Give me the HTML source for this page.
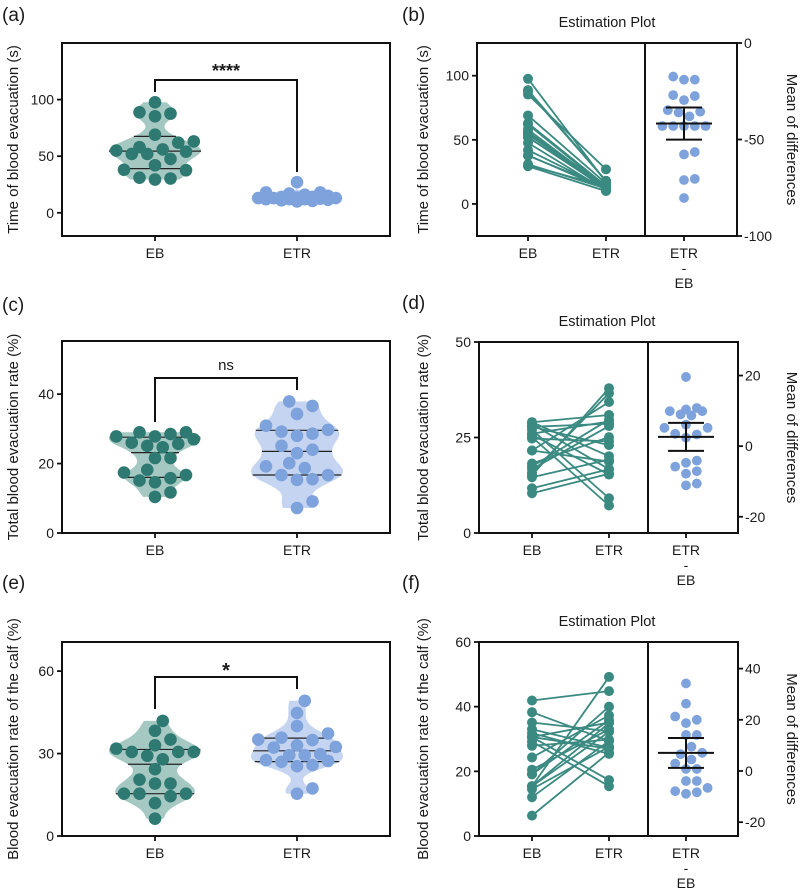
<!DOCTYPE html>
<html><head><meta charset="utf-8">
<style>
html,body{margin:0;padding:0;background:#fff;}
svg{display:block;font-family:"Liberation Sans",Arial,sans-serif;}
</style></head>
<body>
<svg id="fig" xmlns="http://www.w3.org/2000/svg" width="800" height="889" viewBox="0 0 800 889"></svg>
<script>
// ---- data ----
const categories = ["EB", "ETR"];
const timeEB = [97.6,88.8,85.3,87.6,63,69,62,52,54,55,56,58,52,47.6,42,37.6,38,29.4,31,30.3];
const timeETR = [17,18,27,18,14,16,13,12,15,11,13,12.5,14,10.5,12,13,11.5,10,12,13.5];
const timeDiff = [-17.4,-19,-19,-27,-27.5,-29.6,-34.8,-36,-35.6,-38,-43,-43,-43,-43,-43,-56.5,-57.7,-70.4,-71,-80.3];
const totalEB = [29,27.8,29,28.5,27.8,25.7,26,27,24.7,25.1,21.6,21.6,17.4,18.2,15.1,14.6,15.8,16.7,11.7,10.4];
const totalETR = [30.9,23,20.1,16.7,28.6,15.3,29.2,9.1,24,7.2,34.3,18.7,29.7,25.1,37.9,19.2,36.6,28,16.7,15.5];
const totalDiff = [19.6,10.8,10.4,9.9,9.9,9,8.7,6.1,5.2,5.2,3.5,3.3,2.4,-4.1,-4.7,-5.8,-7.1,-7.8,-10.6,-11.1];
const calfEB = [41.9,38.3,35.1,33,31.8,30.6,30.6,30.6,29.2,27.9,24.3,20.5,19.1,19.1,15.4,15.4,14.5,15.4,12,6.3];
const calfETR = [44.8,29.4,32.4,27.3,25.4,17.3,35.1,27,15.4,29.8,37.3,33,35.8,40,49.2,32.2,27.6,34.9,29.4,25.8];
const calfDiff = [34.2,26.3,21.3,20,18.7,14.1,14.1,9.5,7.1,6.6,4.5,2.9,0.8,0.8,-3.9,-3.9,-6.6,-7.9,-8.3,-8.9];
const ticksA = [0,50,100], ticksC = [0,20,40], ticksE = [0,30,60];
const ticksB = [0,50,100], ticksBR = [0,-50,-100];
const ticksD = [0,25,50], ticksDR = [20,0,-20];
const ticksF = [0,20,40,60], ticksFR = [40,20,0,-20];

const NS = "http://www.w3.org/2000/svg";
const svg = document.getElementById('fig');
const TEAL = "#2e7a72", TEALF = "#a6c8c3", BLUE = "#7ea2dc", BLUEF = "#c5d5f1", LINE = "#3a8a82";
function el(tag, attrs, parent) {
  const e = document.createElementNS(NS, tag);
  for (const k in attrs) e.setAttribute(k, attrs[k]);
  (parent || svg).appendChild(e);
  return e;
}
function txt(s, x, y, size, anchor, parent, rot) {
  const t = el('text', {x: x, y: y, 'font-size': size, 'text-anchor': anchor || 'middle', fill: '#1a1a1a'}, parent);
  if (rot) t.setAttribute('transform', 'rotate(' + rot + ' ' + x + ' ' + y + ')');
  t.textContent = s;
  return t;
}
function lin(d0, d1, r0, r1) { return v => r0 + (v - d0) * (r1 - r0) / (d1 - d0); }
function swarm(vals, sy, diam, step, cap) {
  const idx = vals.map((v, i) => i).sort((a, b) => vals[a] - vals[b]);
  const placed = [], off = new Array(vals.length);
  idx.forEach(i => {
    const y = sy(vals[i]);
    let best = 0, bestD = -1, found = false;
    for (let k = 0; k < 200; k++) {
      const o = (k % 2 ? 1 : -1) * Math.ceil(k / 2) * step;
      if (Math.abs(o) > cap) break;
      let md = Infinity;
      placed.forEach(p => { md = Math.min(md, Math.hypot(p[0] - o, p[1] - y)); });
      if (md >= diam) { best = o; found = true; break; }
      if (md > bestD + 0.01) { bestD = md; best = o; }
    }
    placed.push([best, y]); off[i] = best;
  });
  return off;
}
function quant(vals, p) {
  const s = vals.slice().sort((a, b) => a - b), n = s.length;
  let pos = (n + 1) * p - 1; pos = Math.max(0, Math.min(n - 1, pos));
  const lo = Math.floor(pos), hi = Math.ceil(pos);
  return s[lo] + (s[hi] - s[lo]) * (pos - lo);
}
function meanCI(d) {
  const n = d.length, m = d.reduce((a, b) => a + b, 0) / n;
  const sd = Math.sqrt(d.reduce((a, b) => a + (b - m) * (b - m), 0) / (n - 1));
  const h = 2.093 * sd / Math.sqrt(n);
  return [m, m - h, m + h];
}

function violinPanel(c) {
  const g = el('g', {});  
  const sy = lin(c.ymin, c.ymax, c.y1, c.y0);
  const groups = [[c.a, c.ax, TEAL, TEALF], [c.b, c.bx, BLUE, BLUEF]];
  groups.forEach((gr, gi) => {
    const vals = gr[0], cx = gr[1];
    const n = vals.length, mn = Math.min(...vals), mx = Math.max(...vals);
    const m = vals.reduce((a, b) => a + b, 0) / n;
    const sd = Math.sqrt(vals.reduce((a, b) => a + (b - m) * (b - m), 0) / (n - 1));
    const bw = 0.55 * 1.06 * sd * Math.pow(n, -0.2);
    const dens = v => vals.reduce((a, d) => a + Math.exp(-0.5 * ((v - d) / bw) ** 2), 0);
    const N = 60, pts = [];
    let kmax = 0;
    for (let i = 0; i <= N; i++) { const v = mn + (mx - mn) * i / N; const k = dens(v); kmax = Math.max(kmax, k); pts.push([v, k]); }
    const W = 46, wAt = v => W * dens(v) / kmax;
    let dpath = '';
    pts.forEach((p, i) => { dpath += (i ? 'L' : 'M') + (cx + W * p[1] / kmax).toFixed(1) + ',' + sy(p[0]).toFixed(1); });
    for (let i = N; i >= 0; i--) { const p = pts[i]; dpath += 'L' + (cx - W * p[1] / kmax).toFixed(1) + ',' + sy(p[0]).toFixed(1); }
    const vp = el('path', {d: dpath + 'Z', fill: gr[3], stroke: 'none'}, g);
    
    
    [0.25, 0.5, 0.75].forEach(p => {
      const q = quant(vals, p), w = wAt(q);
      const ql = el('line', {x1: cx - w, x2: cx + w, y1: sy(q), y2: sy(q), stroke: '#222', 'stroke-width': 1.2}, g);
      
      
    });
    const off = swarm(vals, sy, 12.5, 7.75, 45);
    vals.forEach((v, i) => {
      const d = el('circle', {cx: cx + off[i], cy: sy(v), r: 6.3, fill: gr[2]}, g);
      
      
    });
  });
  el('rect', {x: c.x0, y: c.y0, width: c.x1 - c.x0, height: c.y1 - c.y0, fill: 'none', stroke: '#111', 'stroke-width': 2}, g);
  c.ticks.forEach(t => {
    el('line', {x1: c.x0 - 5, x2: c.x0, y1: sy(t), y2: sy(t), stroke: '#111', 'stroke-width': 1.8}, g);
    txt(String(t), c.x0 - 8, sy(t) + 5, 14, 'end', g);
  });
  [c.ax, c.bx].forEach((x, i) => {
    el('line', {x1: x, x2: x, y1: c.y1, y2: c.y1 + 5, stroke: '#111', 'stroke-width': 1.8}, g);
    txt(categories[i], x, c.y1 + 22, 14, 'middle', g);
  });
  txt(c.ytitle, 18, (c.y0 + c.y1) / 2, 15, 'middle', g, -90);
  txt(c.label, 2, c.labelY, 19, 'start', g);
  const br = el('path', {d: 'M' + c.ax + ',' + c.brA + 'V' + c.brY + 'H' + c.bx + 'V' + c.brB, fill: 'none', stroke: '#111', 'stroke-width': 2}, g);
  
  
  const st = txt(c.sig, (c.ax + c.bx) / 2, c.brY - c.sigOff, c.sigSize, 'middle', g);
  st.setAttribute('font-weight', c.sig === 'ns' ? 'normal' : 'bold');
}

function estPanel(c) {
  const g = el('g', {});  
  const sy = lin(c.ymin, c.ymax, c.y1, c.y0);
  const sr = lin(c.rmin, c.rmax, c.y1, c.y0);
  c.a.forEach((v, i) => {
    const l = el('line', {x1: c.ax, x2: c.bx, y1: sy(v), y2: sy(c.b[i]), stroke: LINE, 'stroke-width': 1.8}, g);
    
    
  });
  [[c.a, c.ax], [c.b, c.bx]].forEach(gr => gr[0].forEach(v => {
    const d = el('circle', {cx: gr[1], cy: sy(v), r: 5, fill: LINE}, g);
    
    
  }));
  const off = swarm(c.diff, sr, 10, 5.4, 22);
  c.diff.forEach((v, i) => {
    const d = el('circle', {cx: c.dx + off[i], cy: sr(v), r: 4.9, fill: BLUE}, g);
    
    
  });
  const mc = meanCI(c.diff);
  const eb = el('path', {d: 'M' + (c.dx - 28) + ',' + sr(mc[0]) + 'H' + (c.dx + 28) +
    'M' + (c.dx - 18) + ',' + sr(mc[1]) + 'H' + (c.dx + 18) + 'M' + (c.dx - 18) + ',' + sr(mc[2]) + 'H' + (c.dx + 18) +
    'M' + c.dx + ',' + sr(mc[1]) + 'V' + sr(mc[2]), fill: 'none', stroke: '#111', 'stroke-width': 2}, g);
  
  
  el('rect', {x: c.x0, y: c.y0, width: c.x1 - c.x0, height: c.y1 - c.y0, fill: 'none', stroke: '#111', 'stroke-width': 2}, g);
  el('line', {x1: c.xd, x2: c.xd, y1: c.y0, y2: c.y1, stroke: '#111', 'stroke-width': 2}, g);
  c.ticks.forEach(t => {
    el('line', {x1: c.x0 - 5, x2: c.x0, y1: sy(t), y2: sy(t), stroke: '#111', 'stroke-width': 1.8}, g);
    txt(String(t), c.x0 - 8, sy(t) + 5, 14, 'end', g);
  });
  c.rticks.forEach(t => {
    el('line', {x1: c.x1, x2: c.x1 + 5, y1: sr(t), y2: sr(t), stroke: '#111', 'stroke-width': 1.8}, g);
    txt(String(t), c.x1 + 7, sr(t) + 5, 14, 'start', g);
  });
  [c.ax, c.bx, c.dx].forEach(x => {
    el('line', {x1: x, x2: x, y1: c.y1, y2: c.y1 + 5, stroke: '#111', 'stroke-width': 1.8}, g);
  });
  txt('EB', c.ax, c.y1 + 22, 14, 'middle', g);
  txt('ETR', c.bx, c.y1 + 22, 14, 'middle', g);
  txt('ETR', c.dx, c.y1 + 22, 14, 'middle', g);
  txt('-', c.dx, c.y1 + 37, 14, 'middle', g);
  txt('EB', c.dx, c.y1 + 52, 14, 'middle', g);
  txt('Estimation Plot', 607, c.y0 - 16, 14.5, 'middle', g);
  txt(c.ytitle, 428, (c.y0 + c.y1) / 2, 15, 'middle', g, -90);
  txt('Mean of differences', 787, (c.y0 + c.y1) / 2, 15, 'middle', g, 90);
  txt(c.label, 402, c.labelY, 19, 'start', g);
}

violinPanel({name: 'panel-a-violin', x0: 62, x1: 390, y0: 43, y1: 236, ymin: -20.5, ymax: 150, ticks: ticksA, a: timeEB, b: timeETR, ax: 155, bx: 297,
  ytitle: 'Time of blood evacuation (s)', label: '(a)', labelY: 21, brY: 80, brA: 92, brB: 172, sig: '****', sigOff: 3, sigSize: 18});
violinPanel({name: 'panel-c-violin', x0: 62, x1: 390, y0: 341, y1: 533, ymin: 0, ymax: 55.3, ticks: ticksC, a: totalEB, b: totalETR, ax: 155, bx: 297,
  ytitle: 'Total blood evacuation rate (%)', label: '(c)', labelY: 311, brY: 378, brA: 422, brB: 390, sig: 'ns', sigOff: 8, sigSize: 15});
violinPanel({name: 'panel-e-violin', x0: 62, x1: 390, y0: 642, y1: 836, ymin: 0, ymax: 70.6, ticks: ticksE, a: calfEB, b: calfETR, ax: 155, bx: 297,
  ytitle: 'Blood evacuation rate of the calf (%)', label: '(e)', labelY: 589, brY: 677, brA: 709, brB: 689, sig: '*', sigOff: 0, sigSize: 20});

estPanel({name: 'panel-b-estimation', x0: 477, xd: 645, x1: 737, y0: 43, y1: 236, ymin: -25, ymax: 125.5, rmin: -100, rmax: 0,
  ticks: ticksB, rticks: ticksBR, a: timeEB, b: timeETR, diff: timeDiff, ax: 528, bx: 606, dx: 684, ytitle: 'Time of blood evacuation (s)', label: '(b)', labelY: 21});
estPanel({name: 'panel-d-estimation', x0: 479, xd: 648, x1: 738, y0: 342, y1: 533, ymin: 0, ymax: 50, rmin: -24.6, rmax: 29.5,
  ticks: ticksD, rticks: ticksDR, a: totalEB, b: totalETR, diff: totalDiff, ax: 532, bx: 609, dx: 686, ytitle: 'Total blood evacuation rate (%)', label: '(d)', labelY: 309});
estPanel({name: 'panel-f-estimation', x0: 479, xd: 648, x1: 738, y0: 642, y1: 836, ymin: 0, ymax: 60, rmin: -25.4, rmax: 50.4,
  ticks: ticksF, rticks: ticksFR, a: calfEB, b: calfETR, diff: calfDiff, ax: 532, bx: 609, dx: 686, ytitle: 'Blood evacuation rate of the calf (%)', label: '(f)', labelY: 589});
</script>
</body></html>
